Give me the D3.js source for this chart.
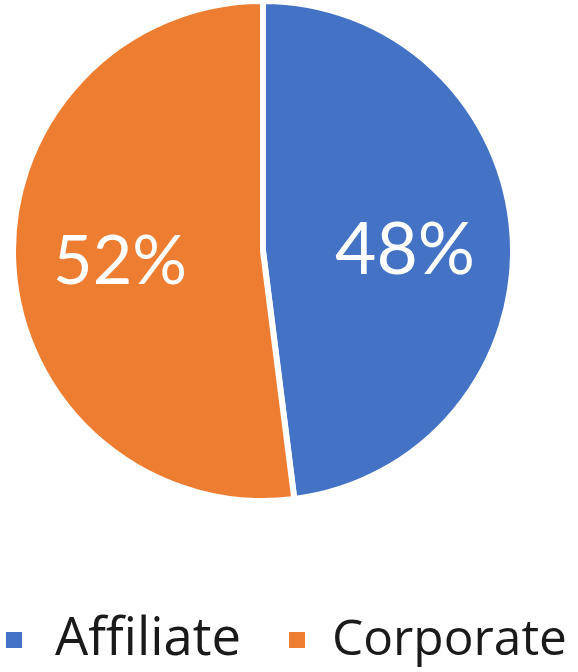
<!DOCTYPE html>
<html><head><meta charset="utf-8">
<script src="https://cdn.jsdelivr.net/npm/d3@7"></script>
<style>body{margin:0;background:#fff}svg{display:block}</style>
</head><body>
<script>
const categories = ["Affiliate", "Corporate"];
const values = [48, 52];
const labels = ["48%", "52%"];
const colors = ["#4472C4", "#ED7D31"];

const W = 578, H = 672;
const FONT = "'Open Sans', Lato, sans-serif";
const LFONT = "Lato, 'Open Sans', sans-serif";
const svg = d3.select("body").append("svg").attr("width", W).attr("height", H);
const cx = 263, cy = 251, r = 250;
const pie = d3.pie().sort(null).value(d => d)(values);
const arc = d3.arc().innerRadius(0).outerRadius(r);
const g = svg.append("g").attr("transform", `translate(${cx},${cy})`);
g.selectAll("path").data(pie).join("path")
  .attr("d", arc).attr("fill", (d, i) => colors[i])
  .attr("stroke", "#fff").attr("stroke-width", 6).attr("stroke-linejoin", "round");
// label center x and baseline y relative to pie center
const lpos = [[142, 23], [-143, 33]];
const lw = [140, 134];
g.selectAll("text.lbl").data(pie).join("text").attr("class", "lbl")
  .attr("x", (d, i) => lpos[i][0]).attr("y", (d, i) => lpos[i][1])
  .attr("text-anchor", "middle")
  .attr("fill", "#fff").attr("font-family", LFONT).attr("font-size", 70)
  .text((d, i) => labels[i])
  .each(function(d, i) {
    const w = this.getComputedTextLength();
    d3.select(this).attr("font-size", 70 * lw[i] / w);
  });

const legX = [6, 289], textX = [55, 332], textW = [186, 235];
const leg = svg.append("g");
categories.forEach((c, i) => {
  leg.append("rect").attr("x", legX[i]).attr("y", 632).attr("width", 16).attr("height", 16).attr("fill", colors[i]);
  const t = leg.append("text").attr("x", textX[i]).attr("y", 655)
    .attr("font-family", FONT).attr("font-size", 50).attr("fill", "#1a1a1a").text(c);
  const w = t.node().getComputedTextLength();
  t.attr("font-size", 50 * textW[i] / w);
});
</script>
</body></html>
